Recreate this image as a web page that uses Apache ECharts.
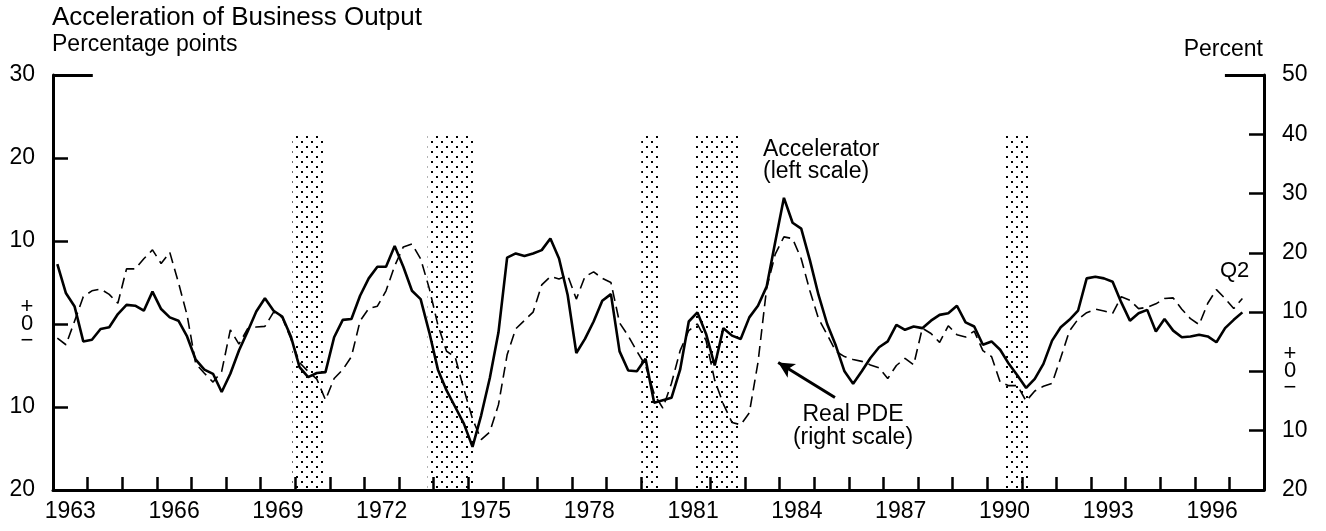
<!DOCTYPE html>
<html>
<head>
<meta charset="utf-8">
<title>Acceleration of Business Output</title>
<script src="https://cdn.jsdelivr.net/npm/echarts@6.0.0/dist/echarts.min.js"></script>
<style>
  html, body { margin: 0; padding: 0; background: #fff; }
  #chart { width: 1326px; height: 531px; }
</style>
</head>
<body>
<div id="chart"></div>
<script>
// Quarterly data, 1963Q1 - 1997Q2
const startYear = 1963;

// Accelerator, percentage points (left scale)
const accelerator = [
  7.2, 3.7, 2.1, -2.1,      // 1963
  -1.9, -0.6, -0.4, 1.2,    // 1964
  2.3, 2.2, 1.6, 3.9,       // 1965
  1.8, 0.8, 0.4, -1.5,      // 1966
  -4.3, -5.5, -6.0, -8.2,   // 1967
  -6.0, -3.2, -0.9, 1.5,    // 1968
  3.1, 1.6, 0.9, -1.5,      // 1969
  -5.2, -6.4, -5.9, -5.8,   // 1970
  -1.6, 0.5, 0.6, 3.4,      // 1971
  5.5, 6.9, 6.9, 9.4,       // 1972
  6.9, 4.0, 3.0, -1.0,      // 1973
  -5.5, -8.0, -10.0, -12.0, // 1974
  -14.8, -11.0, -6.5, -1.0, // 1975
  8.0, 8.5, 8.2, 8.5,       // 1976
  8.9, 10.3, 7.9, 3.5,      // 1977
  -3.5, -1.8, 0.3, 2.8,     // 1978
  3.6, -3.3, -5.6, -5.7,    // 1979
  -4.2, -9.5, -9.2, -8.9,   // 1980
  -5.5, 0.3, 1.4, -1.2,     // 1981
  -5.0, -0.5, -1.4, -1.8,   // 1982
  0.8, 2.2, 4.5, 9.9,       // 1983
  15.2, 12.2, 11.5, 7.7,    // 1984
  3.5, 0.0, -2.6, -5.7,     // 1985
  -7.2, -5.7, -4.1, -2.8,   // 1986
  -2.1, -0.1, -0.7, -0.3,   // 1987
  -0.5, 0.4, 1.1, 1.3,      // 1988
  2.2, 0.2, -0.3, -2.5,     // 1989
  -2.1, -3.1, -4.8, -6.2,   // 1990
  -7.7, -6.6, -4.8, -2.0,   // 1991
  -0.4, 0.5, 1.6, 5.5,      // 1992
  5.7, 5.5, 5.1, 2.6,       // 1993
  0.4, 1.3, 1.7, -0.9,      // 1994
  0.6, -0.8, -1.6, -1.5,    // 1995
  -1.3, -1.5, -2.2, -0.5,   // 1996
  0.5, 1.4                  // 1997
];

// Real PDE, percent (right scale)
const realPDE = [
  5.6, 4.5, 8.5, 12.6,      // 1963
  13.6, 13.9, 13.0, 11.5,   // 1964
  17.3, 17.3, 19.0, 20.5,   // 1965
  18.2, 20.1, 15.0, 9.5,    // 1966
  1.3, -0.3, -1.8, 0.0,     // 1967
  7.0, 4.6, 7.2, 7.5,       // 1968
  7.6, 10.0, 9.1, 5.5,      // 1969
  1.5, 0.0, -1.3, -4.8,     // 1970
  -1.2, 0.3, 2.5, 8.5,      // 1971
  10.6, 11.0, 13.6, 17.8,   // 1972
  21.0, 21.5, 19.0, 14.0,   // 1973
  7.8, 3.4, 2.4, -3.0,      // 1974
  -8.0, -11.5, -10.2, -5.6, // 1975
  2.8, 7.2, 8.6, 10.0,      // 1976
  14.6, 16.0, 15.6, 16.2,   // 1977
  12.2, 16.0, 16.8, 15.7,   // 1978
  15.0, 8.2, 6.0, 3.4,      // 1979
  1.0, -3.8, -6.2, -2.0,    // 1980
  3.5, 6.9, 8.0, 5.2,       // 1981
  -1.5, -5.5, -8.6, -9.0,   // 1982
  -7.0, 1.5, 14.0, 19.8,    // 1983
  22.7, 22.4, 19.0, 13.6,   // 1984
  8.9, 6.2, 3.4, 2.5,       // 1985
  2.0, 1.7, 1.1, 0.6,       // 1986
  -1.2, 1.0, 2.2, 1.1,      // 1987
  7.3, 6.4, 4.9, 7.7,       // 1988
  6.2, 5.8, 6.8, 3.5,       // 1989
  2.5, -1.8, -2.4, -2.4,    // 1990
  -5.0, -3.3, -2.5, -2.0,   // 1991
  2.3, 6.8, 8.8, 9.9,       // 1992
  10.5, 10.2, 9.8, 12.6,    // 1993
  12.0, 10.6, 10.8, 11.4,   // 1994
  12.3, 12.4, 10.5, 8.9,    // 1995
  7.9, 11.5, 13.8, 12.3,    // 1996
  10.6, 12.3                // 1997
];

// Recession periods (shaded), in fractional years
const recessions = [
  [1969.92, 1970.84],
  [1973.83, 1975.17],
  [1980.0, 1980.5],
  [1981.5, 1982.86],
  [1990.5, 1991.23]
];

// Year categories for the time axis (labels every 3 years)
const yearLabels = [
  '1963', '1964', '1965', '1966', '1967', '1968', '1969', '1970', '1971', '1972',
  '1973', '1974', '1975', '1976', '1977', '1978', '1979', '1980', '1981', '1982',
  '1983', '1984', '1985', '1986', '1987', '1988', '1989', '1990', '1991', '1992',
  '1993', '1994', '1995', '1996', '1997'
];

const FONT = '"Liberation Sans", Arial, Helvetica, sans-serif';

// quarter index -> mid-quarter date
const quarterDate = (i) => startYear + i / 4 + 0.125;

// dotted fill for recession bars
const makeDots = () => {
  const c = document.createElement('canvas');
  c.width = 10;
  c.height = 10;
  const ctx = c.getContext('2d');
  ctx.fillStyle = '#000';
  ctx.fillRect(1, 1, 2, 2);
  ctx.fillRect(6, 6, 2, 2);
  return c;
};

const zeroLabel = '{z|+}\n{z|0}\n{z|\u2212}';
const zeroRich = {
  z: { width: 16, align: 'center', lineHeight: 17, fontSize: 22, fontFamily: FONT, color: '#000' }
};

const chart = echarts.init(document.getElementById('chart'));

const option = {
  animation: false,
  backgroundColor: '#fff',
  textStyle: { fontFamily: FONT },
  grid: { left: 53, right: 62, top: 75, bottom: 41 },
  graphic: [
    { type: 'text', left: 52, top: 5, style: { text: 'Acceleration of Business Output', font: '26px ' + FONT, fill: '#000' } },
    { type: 'text', left: 52, top: 33, style: { text: 'Percentage points', font: '23px ' + FONT, fill: '#000' } },
    { type: 'text', right: 63, top: 38, style: { text: 'Percent', font: '23px ' + FONT, fill: '#000' } },
    { type: 'text', left: 763, top: 138, style: { text: 'Accelerator', font: '23px ' + FONT, fill: '#000' } },
    { type: 'text', left: 763, top: 160, style: { text: '(left scale)', font: '23px ' + FONT, fill: '#000' } },
    { type: 'text', x: 853, y: 403, style: { text: 'Real PDE', font: '23px ' + FONT, fill: '#000', align: 'center' } },
    { type: 'text', x: 853, y: 426, style: { text: '(right scale)', font: '23px ' + FONT, fill: '#000', align: 'center' } },
    { type: 'text', left: 1220, top: 260, style: { text: 'Q2', font: '22px ' + FONT, fill: '#000' } }
  ],
  xAxis: [
    {
      type: 'category',
      data: yearLabels,
      boundaryGap: true,
      axisLine: { show: true, onZero: false, lineStyle: { color: '#000', width: 3 } },
      axisTick: {
        show: true, inside: true, alignWithLabel: false, length: 13, interval: 0,
        lineStyle: { color: '#000', width: 2.5 }
      },
      axisLabel: { interval: 2, color: '#000', fontSize: 23, fontFamily: FONT, margin: 10 },
      splitLine: { show: false }
    },
    { type: 'value', min: 1963, max: 1998, show: false, axisLine: { onZero: false } }
  ],
  yAxis: [
    {
      type: 'value',
      position: 'left',
      min: -20,
      max: 30,
      interval: 10,
      axisLine: { show: true, onZero: false, lineStyle: { color: '#000', width: 3 } },
      axisTick: { show: true, inside: true, length: 15, lineStyle: { color: '#000', width: 2.5 } },
      axisLabel: {
        color: '#000', fontSize: 23, fontFamily: FONT, margin: 18,
        formatter: (v) => (v === 0 ? zeroLabel : String(Math.abs(v))),
        rich: zeroRich
      },
      splitLine: { show: false }
    },
    {
      type: 'value',
      position: 'right',
      min: -20,
      max: 50,
      interval: 10,
      axisLine: { show: true, onZero: false, lineStyle: { color: '#000', width: 3 } },
      axisTick: { show: true, inside: true, length: 15, lineStyle: { color: '#000', width: 2.5 } },
      axisLabel: {
        color: '#000', fontSize: 23, fontFamily: FONT, margin: 18,
        formatter: (v) => (v === 0 ? zeroLabel : String(Math.abs(v))),
        rich: zeroRich
      },
      splitLine: { show: false }
    }
  ],
  series: [
    // recession shading
    {
      type: 'line',
      xAxisIndex: 1,
      yAxisIndex: 0,
      data: [],
      z: 1,
      markArea: {
        silent: true,
        itemStyle: { color: { image: makeDots(), repeat: 'repeat' } },
        data: recessions.map(([s, e]) => [{ xAxis: s, yAxis: -20 }, { xAxis: e, yAxis: 23 }])
      }
    },
    {
      name: 'Accelerator',
      type: 'line',
      xAxisIndex: 1,
      yAxisIndex: 0,
      data: accelerator.map((v, i) => [quarterDate(i), v]),
      showSymbol: false,
      z: 5,
      lineStyle: { color: '#000', width: 2.6 },
      markLine: {
        silent: true,
        symbol: 'none',
        label: { show: false },
        lineStyle: { color: '#000', width: 3, type: 'solid' },
        // long top tick on the left scale
        data: [[{ coord: [1963, 30] }, { coord: [1964.15, 30] }]]
      }
    },
    {
      name: 'Real PDE',
      type: 'line',
      xAxisIndex: 1,
      yAxisIndex: 1,
      data: realPDE.map((v, i) => [quarterDate(i), v]),
      showSymbol: false,
      z: 4,
      lineStyle: { color: '#000', width: 1.6, type: [11, 6] },
      markLine: {
        silent: true,
        symbol: 'none',
        label: { show: false },
        lineStyle: { color: '#000', width: 3, type: 'solid' },
        data: [
          // long top tick on the right scale
          [{ coord: [1996.87, 50] }, { coord: [1998, 50] }],
          // arrow pointing at the PDE line
          [
            { coord: [1985.6, -4.4], symbol: 'none' },
            { coord: [1983.96, 1.5], symbol: 'arrow', symbolSize: [12, 16] }
          ]
        ]
      }
    }
  ]
};

chart.setOption(option);
window.addEventListener('resize', () => chart.resize());
</script>
</body>
</html>
